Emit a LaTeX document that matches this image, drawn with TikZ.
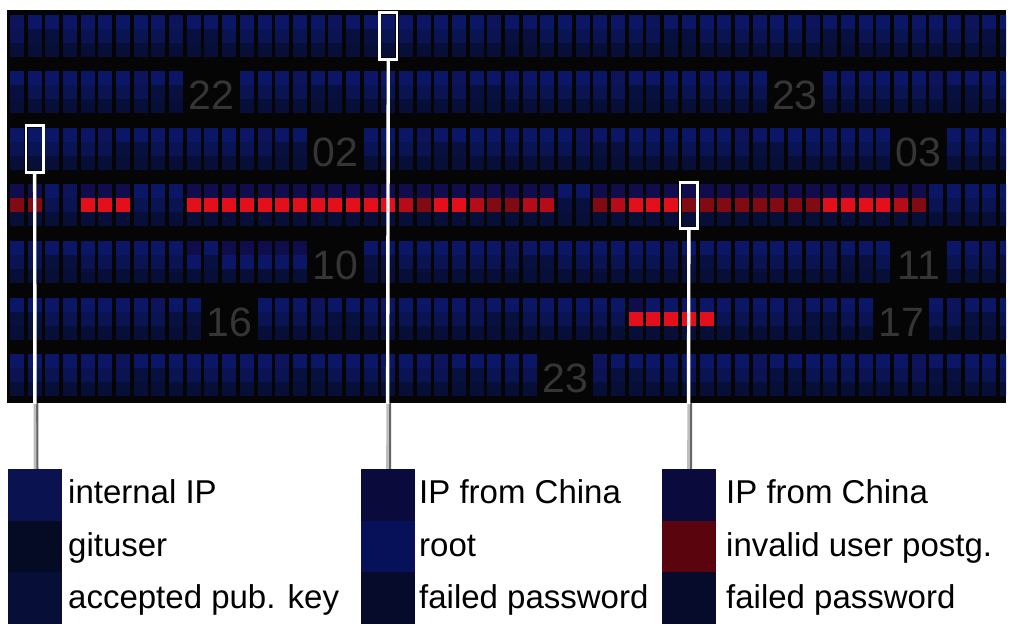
\documentclass[tikz,border=0pt]{standalone}
\usepackage{fontspec}
\setmainfont{Liberation Sans}
\definecolor{bgdark}{HTML}{050505}
\definecolor{cA}{HTML}{0B1766}
\definecolor{cA2}{HTML}{0D145C}
\definecolor{cB}{HTML}{0A1452}
\definecolor{cB2}{HTML}{08103F}
\definecolor{cC}{HTML}{070E38}
\definecolor{cP}{HTML}{110D4C}
\definecolor{redB}{HTML}{E3101C}
\definecolor{redM}{HTML}{B50C18}
\definecolor{redD}{HTML}{820A12}
\definecolor{numgray}{HTML}{353535}
\definecolor{lgIntIP}{HTML}{0A1350}
\definecolor{lgGit}{HTML}{060B25}
\definecolor{lgAcc}{HTML}{070F38}
\definecolor{lgChina}{HTML}{0A0B3C}
\definecolor{lgRoot}{HTML}{06115A}
\definecolor{lgFail}{HTML}{060B2B}
\definecolor{lgInval}{HTML}{5A050E}
\definecolor{lineLight}{HTML}{BDBDBD}
\definecolor{lineShadow}{HTML}{666666}
\newcommand\hcell[5]{%
  \pgfmathsetmacro\hcx{10+17.68*#1}%
  \pgfmathsetmacro\hcy{15+56.5*#2}%
  \fill[#3] (\hcx,\hcy) rectangle ++(14,14);%
  \fill[#4] (\hcx,\hcy+14) rectangle ++(14,14);%
  \fill[#5] (\hcx,\hcy+28) rectangle ++(14,14);%
}
\tikzset{
  hourlabel/.style={text=numgray, font=\fontsize{41}{41}\selectfont, inner sep=0pt, anchor=base},
  legtext/.style={font=\fontsize{33}{33}\selectfont, inner sep=0pt, anchor=base west, text=black},
  hlbox/.style={draw=white, line width=2.8pt, inner sep=0pt, minimum width=17.5pt, minimum height=46.5pt},
  legblock/.style={inner sep=0pt, minimum width=54pt, minimum height=155pt},
  connshadow/.style={draw=lineShadow, line width=2.6pt},
  connlight/.style={draw=lineLight, line width=2.6pt},
  conndark/.style={draw=white, line width=3.4pt},
}
\begin{document}
\begin{tikzpicture}[x=1pt,y=-1pt]
\useasboundingbox (0,0) rectangle (1012,639);
\fill[white] (0,0) rectangle (1012,639);
\fill[bgdark] (7,10) rectangle (1006,403);
\begin{scope}
  \clip (7,10) rectangle (1006,403);
  \foreach \r in {0,...,6}{
    \foreach \c in {0,...,56}{
      \pgfmathtruncatemacro\cellv{mod(\c*37+\r*11,9)}
      \ifcase\cellv \hcell{\c}{\r}{cA2}{cB}{cC}\or \hcell{\c}{\r}{cA}{cB2}{cC}\or \hcell{\c}{\r}{cA}{cB2}{cC}\else \hcell{\c}{\r}{cA}{cB}{cC}\fi
    }
  }
  % purple tops in row 5
  \foreach \c in {10,12,13,14,15,16} {\hcell{\c}{4}{cP}{cA}{cC}}
  % red row 4
  \foreach \c/\rc in {0/redD,1/redD,4/redB,5/redB,6/redB,10/redB,11/redB,12/redB,13/redB,14/redB,15/redB,16/redB,17/redB,18/redB,19/redB,20/redB,21/redB,22/redM,23/redD,24/redB,25/redB,26/redM,27/redD,28/redD,29/redM,30/redM,33/redD,34/redM,35/redB,36/redB,37/redB,38/redD,39/redD,40/redD,41/redD,42/redD,43/redD,44/redD,45/redD,46/redB,47/redB,48/redB,49/redB,50/redM,51/redD}
    {\hcell{\c}{3}{cP}{\rc}{cC}}
  % red in row 6
  \hcell{35}{5}{cP}{redB}{cC}
  \foreach \c in {36,...,39} {\hcell{\c}{5}{cA}{redB}{cC}}
  % gaps for hour labels
  \foreach \r/\c in {1/10,1/43,2/17,2/50,4/17,4/50,5/11,5/49,6/30}
    {\fill[bgdark] (10+17.68*\c-1.8, 15+56.5*\r-1) rectangle (10+17.68*\c+17.68*2+15.8, 15+56.5*\r+43);}
\end{scope}
% hour labels
\node[hourlabel] (h22) at (10+17.68*11+7, 15+56.5*1+38.5) {22};
\node[hourlabel] (h23a) at (10+17.68*44+7, 15+56.5*1+38.5) {23};
\node[hourlabel] (h02) at (10+17.68*18+7, 15+56.5*2+38.5) {02};
\node[hourlabel] (h03) at (10+17.68*51+7, 15+56.5*2+38.5) {03};
\node[hourlabel] (h10) at (10+17.68*18+7, 15+56.5*4+38.5) {10};
\node[hourlabel] (h11) at (10+17.68*51+7, 15+56.5*4+38.5) {11};
\node[hourlabel] (h16) at (10+17.68*12+7, 15+56.5*5+38.5) {16};
\node[hourlabel] (h17) at (10+17.68*50+7, 15+56.5*5+38.5) {17};
\node[hourlabel] (h23b) at (10+17.68*31+7, 15+56.5*6+38.5) {23};
% highlight boxes
\node[hlbox] (box1) at (10+17.68*1+7, 15+56.5*2+21) {};
\node[hlbox] (box2) at (10+17.68*21+7, 15+56.5*0+21) {};
\node[hlbox] (box3) at (10+17.68*38+7, 15+56.5*3+21) {};
% legend blocks
\node[legblock] (leg1) at (35,546.5) {};
\node[legblock] (leg2) at (387.5,546.5) {};
\node[legblock] (leg3) at (688.5,546.5) {};
\fill[lgIntIP] (8,469) rectangle (62,520.7);
\fill[lgGit] (8,520.7) rectangle (62,572.3);
\fill[lgAcc] (8,572.3) rectangle (62,624);
\fill[lgChina] (360.5,469) rectangle (414.5,520.7);
\fill[lgRoot] (360.5,520.7) rectangle (414.5,572.3);
\fill[lgFail] (360.5,572.3) rectangle (414.5,624);
\fill[lgChina] (661.5,469) rectangle (715.5,520.7);
\fill[lgInval] (661.5,520.7) rectangle (715.5,572.3);
\fill[lgFail] (661.5,572.3) rectangle (715.5,624);
% connectors
\begin{scope}
  \clip (0,403) rectangle (1012,469.5);
  \foreach \b/\l in {box1/leg1,box2/leg2,box3/leg3}{
    \draw[connshadow] ([xshift=2.2pt]\b.south) -- ([xshift=2.2pt]\l.north);
    \draw[connlight] (\b.south) -- (\l.north);
  }
\end{scope}
\begin{scope}
  \clip (7,10) rectangle (1006,403);
  \foreach \b/\l in {box1/leg1,box2/leg2,box3/leg3}{
    \draw[conndark] (\b.south) -- (\l.north);
  }
\end{scope}
% legend texts
\node[legtext] (t11) at (68,503) {internal IP};
\node[legtext] (t12) at (68,556) {gituser};
\node[legtext] (t13) at (68,608) {accepted pub. key};
\node[legtext] (t21) at (419,503) {IP from China};
\node[legtext] (t22) at (419,556) {root};
\node[legtext] (t23) at (419,608) {failed password};
\node[legtext] (t31) at (726,503) {IP from China};
\node[legtext] (t32) at (726,556) {invalid user postg.};
\node[legtext] (t33) at (726,608) {failed password};
\end{tikzpicture}
\end{document}
